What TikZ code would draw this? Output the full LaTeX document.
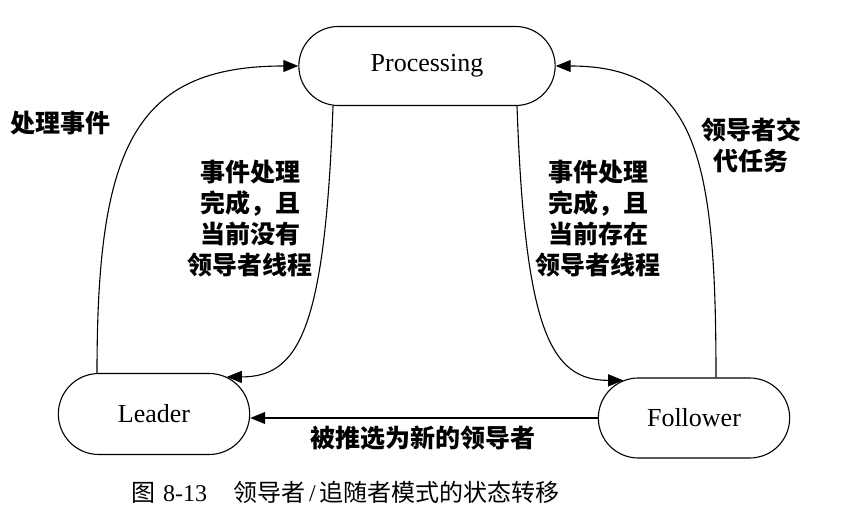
\documentclass[tikz,border=0pt]{standalone}
\usepackage{fontspec}
\setmainfont{Liberation Serif}
\newfontfamily\cjk{Noto Sans CJK SC}
\usetikzlibrary{shapes.misc,arrows.meta,calc}
\tikzset{
  state/.style={draw,line width=1.1pt,rounded rectangle,font=\fontsize{26}{30}\selectfont},
  conn/.style={line width=1.1pt,-{Triangle[length=15pt,width=12pt]}},
  lbl/.style={align=center,inner sep=0pt,font=\cjk\bfseries\fontsize{25}{31}\selectfont},
}
\begin{document}
\begin{tikzpicture}[x=1pt,y=-1pt]
\useasboundingbox (0,0) rectangle (849,529);
\node[state,minimum width=263pt,minimum height=79pt] (P) at (427,66) {Processing};
\node[state,minimum width=198pt,minimum height=81pt] (L) at (154,414) {Leader};
\node[state,minimum width=198pt,minimum height=80pt] (F) at (694,418) {Follower};

\draw[conn] ([xshift=-57pt]L.north) .. controls +(0,-224) and +(-165,0) .. (P.west);
\draw[conn] ([xshift=-94pt]P.south) .. controls +(-8,224) and +(72,0) .. (L.27);
\draw[conn] ([xshift=90pt]P.south) .. controls +(8,224) and +(-73,0) .. (F.152);
\draw[conn] ([xshift=22pt]F.north) .. controls +(0,-218) and +(142,0) .. (P.east);
\draw[conn] (F.west) -- (F.west -| L.east);

\node[lbl] (l1) at (60,123) {处理事件};
\node[lbl] (l2) at (250,219) {事件处理\\完成，且\\当前没有\\领导者线程};
\node[lbl] (l3) at (598,219) {事件处理\\完成，且\\当前存在\\领导者线程};
\node[lbl] (l4) at (751,145) {领导者交\\代任务};
\node[lbl] (l5) at (423,438) {被推选为新的领导者};
\node[inner sep=0pt,anchor=west,font=\fontsize{24}{28}\selectfont] (cap) at (131,492) {{\cjk 图}\hspace{8pt}8-13\hspace{26pt}{\cjk 领导者}\,/\,{\cjk 追随者模式的状态转移}};
\end{tikzpicture}
\end{document}
